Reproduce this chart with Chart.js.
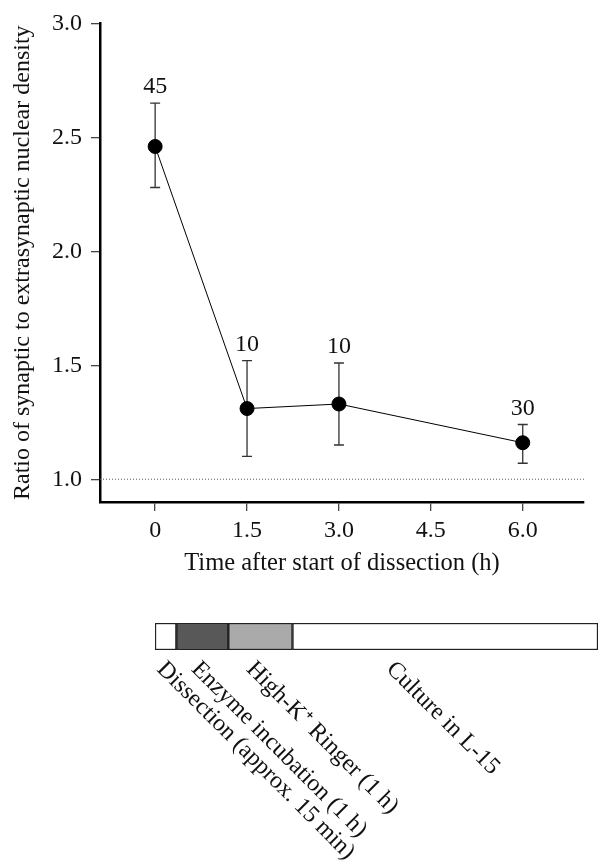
<!DOCTYPE html>
<html>
<head>
<meta charset="utf-8">
<script src="https://cdn.jsdelivr.net/npm/chart.js@4.4.1/dist/chart.umd.min.js"></script>
<style>
  body { margin: 0; background: #fff; }
  #wrap { position: relative; width: 600px; height: 861px; }
  #ratioChart { position: absolute; left: 0; top: 0; }
  #timelineChart { position: absolute; left: 0; top: 600px; }
</style>
</head>
<body>
<div id="wrap">
  <canvas id="ratioChart" width="600" height="600"></canvas>
  <canvas id="timelineChart" width="600" height="261"></canvas>
</div>
<script>
// values
const timesH = [0, 1.5, 3.0, 6.0];
const ratioMean = [2.46, 1.31, 1.33, 1.16];
const ratioLow = [2.28, 1.10, 1.15, 1.07];
const ratioHigh = [2.65, 1.52, 1.51, 1.24];
const nCells = [45, 10, 10, 30];
const xTicks = [0, 1.5, 3.0, 4.5, 6.0];
const yTicks = [1.0, 1.5, 2.0, 2.5, 3.0];
const refLine = 1.0;

const stageNames = [
  'Dissection (approx. 15 min)',
  'Enzyme incubation (1 h)',
  'High-K\u207A Ringer (1 h)',
  'Culture in L-15'
];
const stageHours = [0.35, 0.85, 1.05, 5.0];

const serif = '"Liberation Serif", "Times New Roman", serif';
Chart.defaults.font.family = serif;
Chart.defaults.color = '#111';

// error bars, dotted line at 1.0 and the n labels
const errorBars = {
  id: 'errorBars',
  beforeDatasetsDraw(chart) {
    const { ctx, chartArea, scales: { x, y } } = chart;
    ctx.save();
    ctx.strokeStyle = '#555';
    ctx.lineWidth = 1;
    ctx.setLineDash([1, 2]);
    ctx.beginPath();
    ctx.moveTo(chartArea.left, y.getPixelForValue(refLine));
    ctx.lineTo(chartArea.right, y.getPixelForValue(refLine));
    ctx.stroke();
    ctx.setLineDash([]);
    ctx.strokeStyle = '#333';
    ctx.lineWidth = 1.3;
    timesH.forEach((t, i) => {
      const px = x.getPixelForValue(t);
      const lo = y.getPixelForValue(ratioLow[i]);
      const hi = y.getPixelForValue(ratioHigh[i]);
      ctx.beginPath();
      ctx.moveTo(px, lo); ctx.lineTo(px, hi);
      ctx.moveTo(px - 5, lo); ctx.lineTo(px + 5, lo);
      ctx.moveTo(px - 5, hi); ctx.lineTo(px + 5, hi);
      ctx.stroke();
    });
    ctx.restore();
  },
  afterDatasetsDraw(chart) {
    const { ctx, scales: { x, y } } = chart;
    ctx.save();
    ctx.fillStyle = '#111';
    ctx.font = '24px ' + serif;
    ctx.textAlign = 'center';
    ctx.textBaseline = 'alphabetic';
    timesH.forEach((t, i) => {
      ctx.fillText(String(nCells[i]), x.getPixelForValue(t), y.getPixelForValue(ratioHigh[i]) - 10);
    });
    ctx.restore();
  }
};

new Chart(document.getElementById('ratioChart').getContext('2d'), {
  type: 'line',
  data: {
    datasets: [
      {
        data: timesH.map((t, i) => ({ x: t, y: ratioMean[i] })),
        borderColor: '#000',
        borderWidth: 1,
        backgroundColor: '#000',
        pointRadius: 7,
        pointHoverRadius: 7,
        tension: 0,
      },
    ],
  },
  options: {
    responsive: false,
    animation: false,
    layout: { padding: { top: 19, right: 16, bottom: 0, left: 0 } },
    plugins: { legend: { display: false }, tooltip: { enabled: false } },
    scales: {
      x: {
        type: 'linear',
        min: -0.9,
        max: 7.0,
        afterBuildTicks: (s) => { s.ticks = xTicks.map((v) => ({ value: v })); },
        afterFit: (s) => { s.height = 98; },
        ticks: {
          font: { size: 24 },
          color: '#111',
          padding: 5,
          callback: (v) => (v === 0 ? '0' : v.toFixed(1)),
        },
        grid: { drawOnChartArea: false, drawTicks: true, tickLength: 9, color: '#444', lineWidth: 1.3 },
        border: { display: true, color: '#000', width: 2.5 },
        title: {
          display: true,
          text: 'Time after start of dissection (h)',
          font: { size: 24.5 },
          color: '#111',
          padding: { top: 0, bottom: 22 },
        },
      },
      y: {
        type: 'linear',
        min: 0.9,
        max: 3.0,
        afterBuildTicks: (s) => { s.ticks = yTicks.map((v) => ({ value: v })); },
        afterFit: (s) => { s.width = 100; },
        ticks: {
          font: { size: 24 },
          color: '#111',
          padding: 9,
          callback: (v) => v.toFixed(1),
        },
        grid: { drawOnChartArea: false, drawTicks: true, tickLength: 9, color: '#444', lineWidth: 1.3 },
        border: { display: true, color: '#000', width: 2.5 },
        title: {
          display: true,
          text: 'Ratio of synaptic to extrasynaptic nuclear density',
          font: { size: 24 },
          color: '#111',
          padding: { top: 8, bottom: 0 },
        },
      },
    },
  },
  plugins: [errorBars],
});

// rotated stage labels under the protocol bar
const labelOffsets = [14, 27, 30, 106];
const stageLabels = {
  id: 'stageLabels',
  afterDraw(chart) {
    const { ctx, scales: { x } } = chart;
    ctx.save();
    ctx.fillStyle = '#111';
    ctx.font = '24px ' + serif;
    ctx.textAlign = 'left';
    ctx.textBaseline = 'top';
    let start = 0;
    stageNames.forEach((name, i) => {
      const px = x.getPixelForValue(start) + labelOffsets[i];
      ctx.save();
      ctx.translate(px, 57);
      ctx.rotate(Math.PI / 4);
      ctx.fillText(name, 0, 0);
      ctx.restore();
      start += stageHours[i];
    });
    ctx.restore();
  }
};

const stageColors = ['#ffffff', '#585858', '#aaaaaa', '#ffffff'];
const totalHours = stageHours.reduce((a, b) => a + b, 0);

new Chart(document.getElementById('timelineChart').getContext('2d'), {
  type: 'bar',
  data: {
    labels: ['protocol'],
    datasets: stageHours.map((h, i) => ({
      label: stageNames[i],
      data: [h],
      backgroundColor: stageColors[i],
      borderColor: '#222',
      borderWidth: 1.5,
      borderSkipped: false,
      barPercentage: 1,
      categoryPercentage: 1,
    })),
  },
  options: {
    indexAxis: 'y',
    responsive: false,
    animation: false,
    layout: { padding: { top: 23, right: 2, bottom: 211, left: 155 } },
    plugins: { legend: { display: false }, tooltip: { enabled: false } },
    scales: {
      x: { stacked: true, min: 0, max: totalHours, display: false },
      y: { stacked: true, display: false },
    },
  },
  plugins: [stageLabels],
});
</script>
</body>
</html>
